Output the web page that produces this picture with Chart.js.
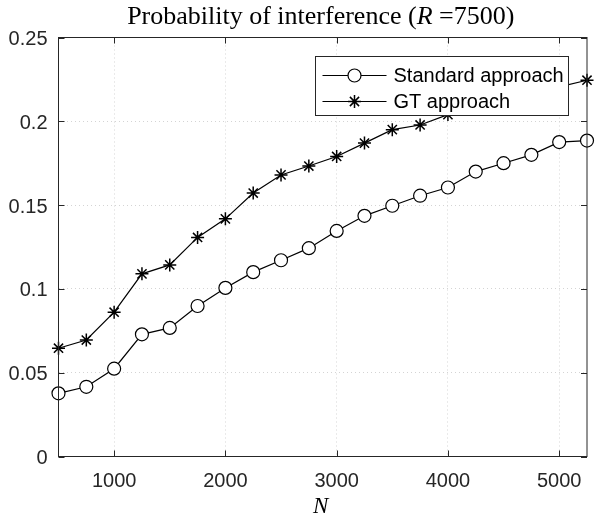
<!DOCTYPE html>
<html>
<head>
<meta charset="utf-8">
<script src="https://cdn.jsdelivr.net/npm/chart.js@4.4.1/dist/chart.umd.min.js"></script>
<style>
  html, body { margin: 0; padding: 0; background: #fff; }
  canvas { display: block; }
</style>
</head>
<body>
<canvas id="canvas" width="595" height="516"></canvas>
<script>
'use strict';

const nValues = [500, 750, 1000, 1250, 1500, 1750, 2000, 2250, 2500, 2750,
  3000, 3250, 3500, 3750, 4000, 4250, 4500, 4750, 5000, 5250];
const standardValues = [0.0377, 0.0416, 0.0524, 0.0729, 0.0767, 0.0898, 0.1006, 0.1100, 0.1171, 0.1243,
  0.1346, 0.1436, 0.1496, 0.1556, 0.1605, 0.1700, 0.1750, 0.1800, 0.1876, 0.1885];
const gtValues = [0.0646, 0.0695, 0.0861, 0.1090, 0.1143, 0.1307, 0.1418, 0.1572, 0.1680, 0.1733,
  0.1790, 0.1870, 0.1950, 0.1978, 0.2040, 0.2090, 0.2130, 0.2170, 0.2205, 0.2245];
const xTickValues = [1000, 2000, 3000, 4000, 5000];
const yTickValues = [0, 0.05, 0.1, 0.15, 0.2, 0.25];
const seriesLabels = ['Standard approach', 'GT approach'];
const titleParts = [
  { text: 'Probability of interference (', style: 'normal' },
  { text: 'R', style: 'italic' },
  { text: ' =7500)', style: 'normal' },
];
const xAxisLabel = 'N';

const axisColor = '#262626';
const sansFont = '"Liberation Sans", Arial, sans-serif';
const serifFont = '"Liberation Serif", "Times New Roman", serif';

function drawMarker(ctx, ds, x, y) {
  ctx.save();
  ctx.strokeStyle = ds.pointBorderColor;
  ctx.fillStyle = ds.pointBackgroundColor;
  ctx.lineWidth = ds.pointBorderWidth;
  Chart.helpers.drawPoint(ctx, {
    pointStyle: ds.pointStyle,
    radius: ds.pointRadius,
    rotation: 0,
    borderWidth: ds.pointBorderWidth,
  }, x, y);
  ctx.restore();
}

const framePlugin = {
  id: 'frame',
  afterDraw(chart) {
    const { ctx, chartArea: a, scales } = chart;
    ctx.save();

    // axes box and inward ticks
    ctx.strokeStyle = axisColor;
    ctx.lineWidth = 1;
    ctx.strokeRect(a.left, a.top, a.right - a.left, a.bottom - a.top);
    ctx.beginPath();
    xTickValues.forEach(v => {
      const x = Math.round(scales.x.getPixelForValue(v)) + 0.5;
      ctx.moveTo(x, a.bottom); ctx.lineTo(x, a.bottom - 6);
      ctx.moveTo(x, a.top); ctx.lineTo(x, a.top + 6);
    });
    yTickValues.forEach(v => {
      const y = Math.round(scales.y.getPixelForValue(v)) + 0.5;
      ctx.moveTo(a.left, y); ctx.lineTo(a.left + 6, y);
      ctx.moveTo(a.right, y); ctx.lineTo(a.right - 6, y);
    });
    ctx.stroke();

    // title, mixed roman / italic
    ctx.fillStyle = '#000';
    ctx.textBaseline = 'alphabetic';
    ctx.textAlign = 'left';
    const titleSize = 26;
    let total = 0;
    titleParts.forEach(p => {
      ctx.font = p.style + ' ' + titleSize + 'px ' + serifFont;
      p.w = ctx.measureText(p.text).width;
      total += p.w;
    });
    let tx = (a.left + a.right) / 2 - total / 2 - 2;
    titleParts.forEach(p => {
      ctx.font = p.style + ' ' + titleSize + 'px ' + serifFont;
      ctx.fillText(p.text, tx, 24);
      tx += p.w;
    });

    // x axis label
    ctx.font = 'italic 23px ' + serifFont;
    ctx.textAlign = 'center';
    ctx.fillText(xAxisLabel, (a.left + a.right) / 2 - 2, 513);

    // legend
    const bw = 253, bh = 59;
    const bx = Math.round(a.right - 19.5 - bw) + 0.5;
    const by = Math.round(a.top + 18) + 0.5;
    ctx.fillStyle = '#fff';
    ctx.fillRect(bx, by, bw, bh);
    ctx.strokeStyle = axisColor;
    ctx.strokeRect(bx, by, bw, bh);
    ctx.font = '20px ' + sansFont;
    ctx.textAlign = 'left';
    ctx.textBaseline = 'middle';
    chart.data.datasets.forEach((ds, i) => {
      const ry = by + 19 + i * 26;
      ctx.strokeStyle = ds.borderColor;
      ctx.lineWidth = ds.borderWidth;
      ctx.beginPath();
      ctx.moveTo(bx + 7, ry);
      ctx.lineTo(bx + 71, ry);
      ctx.stroke();
      drawMarker(ctx, ds, bx + 39, ry);
      ctx.fillStyle = '#000';
      ctx.fillText(ds.label, bx + 78, ry + 1);
    });

    ctx.restore();
  },
};

const gridColor = c => (c.tick && (c.tick.value === yTickValues[0] || c.tick.value === yTickValues[yTickValues.length - 1]))
  ? 'rgba(0,0,0,0)' : '#d4d4d4';

const config = {
  type: 'line',
  data: {
    labels: nValues,
    datasets: [
      {
        label: seriesLabels[0],
        data: nValues.map((n, i) => ({ x: n, y: standardValues[i] })),
        borderColor: '#000',
        borderWidth: 1.2,
        pointStyle: 'circle',
        pointRadius: 6.5,
        pointBorderWidth: 1.2,
        pointBorderColor: '#000',
        pointBackgroundColor: '#fff',
        tension: 0,
        clip: false,
      },
      {
        label: seriesLabels[1],
        data: nValues.map((n, i) => ({ x: n, y: gtValues[i] })),
        borderColor: '#000',
        borderWidth: 1.2,
        pointStyle: 'star',
        pointRadius: 6.5,
        pointBorderWidth: 1.5,
        pointBorderColor: '#000',
        pointBackgroundColor: '#000',
        tension: 0,
        clip: false,
      },
    ],
  },
  options: {
    responsive: false,
    animation: false,
    events: [],
    layout: {
      padding: { top: 37.5, right: 1.5, left: 0, bottom: 0 },
    },
    scales: {
      x: {
        type: 'linear',
        min: 500,
        max: 5250,
        afterBuildTicks: s => { s.ticks = xTickValues.map(v => ({ value: v })); },
        afterFit: s => { s.height = 59.5; s.paddingLeft = 0; s.paddingRight = 0; },
        ticks: {
          color: axisColor,
          font: { family: sansFont, size: 20 },
          padding: 13,
          maxRotation: 0,
          autoSkip: false,
          callback: v => String(v),
        },
        grid: { color: '#d4d4d4', drawTicks: false, lineWidth: 1 },
        border: { display: false, dash: [1, 3] },
      },
      y: {
        type: 'linear',
        min: 0,
        max: 0.25,
        afterBuildTicks: s => { s.ticks = yTickValues.map(v => ({ value: v })); },
        afterFit: s => { s.width = 58.5; },
        ticks: {
          color: axisColor,
          font: { family: sansFont, size: 20 },
          padding: 11,
          labelOffset: 2,
          autoSkip: false,
          callback: v => String(+Number(v).toFixed(2)),
        },
        grid: { color: gridColor, drawTicks: false, lineWidth: 1 },
        border: { display: false, dash: [1, 3] },
      },
    },
    plugins: {
      legend: { display: false },
      title: { display: false },
      tooltip: { enabled: false },
    },
  },
  plugins: [framePlugin],
};

new Chart(document.getElementById('canvas').getContext('2d'), config);
</script>
</body>
</html>
